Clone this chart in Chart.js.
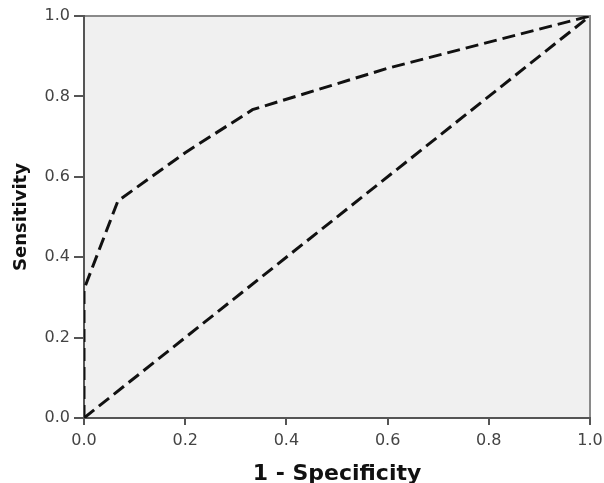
<!DOCTYPE html>
<html lang="en">
<head>
  <meta charset="UTF-8">
  <title>ROC curve</title>
  <script src="https://cdn.jsdelivr.net/npm/chart.js"></script>
  <style>
    body { margin: 0; background: #fff; }
    .wrap { width: 604px; height: 483px; }
  </style>
</head>
<body>
  <div class="wrap"><canvas id="roc" width="604" height="483"></canvas></div>
  <script>
    // ROC points
    const fpr = [0, 0, 0.067, 0.2, 0.333, 0.6, 1];
    const tpr = [0, 0.32, 0.54, 0.66, 0.767, 0.87, 1];
    // reference diagonal
    const refX = [0, 1];
    const refY = [0, 1];
    const tickVals = [0, 0.2, 0.4, 0.6, 0.8, 1.0];

    const toPoints = (xs, ys) => xs.map((x, i) => ({ x: x, y: ys[i] }));

    // grey plot background + lighter top/right frame
    const plotBg = {
      id: 'plotBg',
      beforeDraw(chart) {
        const { ctx, chartArea: a } = chart;
        ctx.save();
        ctx.fillStyle = '#f0f0f0';
        ctx.fillRect(a.left, a.top, a.right - a.left, a.bottom - a.top);
        ctx.strokeStyle = '#8a8a8a';
        ctx.lineWidth = 2;
        ctx.beginPath();
        ctx.moveTo(a.left, a.top);
        ctx.lineTo(a.right, a.top);
        ctx.lineTo(a.right, a.bottom);
        ctx.stroke();
        ctx.restore();
      }
    };

    const lineStyle = {
      borderColor: '#111',
      borderWidth: 3,
      borderDash: [13, 6],
      pointRadius: 0,
      showLine: true,
      fill: false,
      tension: 0
    };

    const tickFont = { family: 'DejaVu Sans', size: 16 };

    new Chart(document.getElementById('roc'), {
      type: 'scatter',
      data: {
        datasets: [
          Object.assign({ label: 'ROC', data: toPoints(fpr, tpr) }, lineStyle),
          Object.assign({ label: 'Reference', data: toPoints(refX, refY) }, lineStyle)
        ]
      },
      options: {
        responsive: false,
        animation: false,
        layout: { padding: { top: 16, right: 14, left: 0, bottom: 0 } },
        plugins: { legend: { display: false }, tooltip: { enabled: false } },
        scales: {
          x: {
            type: 'linear', min: 0, max: 1,
            afterBuildTicks: s => { s.ticks = tickVals.map(v => ({ value: v })); },
            afterFit: s => { s.height = 65; s.paddingLeft = 0; s.paddingRight = 0; },
            grid: { drawOnChartArea: false, tickLength: 7, color: '#555', lineWidth: 2 },
            border: { color: '#555', width: 2 },
            ticks: {
              padding: 6, color: '#444', font: tickFont,
              callback: v => v.toFixed(1)
            },
            title: {
              display: true, text: '1 - Specificity', color: '#111',
              font: { family: 'DejaVu Sans', size: 22, weight: 'bold' },
              padding: { top: 0, bottom: -4 }
            }
          },
          y: {
            type: 'linear', min: 0, max: 1,
            afterBuildTicks: s => { s.ticks = tickVals.map(v => ({ value: v })); },
            afterFit: s => { s.width = 84; s.paddingTop = 0; s.paddingBottom = 0; },
            grid: { drawOnChartArea: false, tickLength: 10, color: '#555', lineWidth: 2 },
            border: { color: '#555', width: 2 },
            ticks: {
              padding: 4, color: '#444', font: tickFont,
              callback: v => v.toFixed(1)
            },
            title: {
              display: true, text: 'Sensitivity', color: '#111',
              font: { family: 'DejaVu Sans', size: 18, weight: 'bold' },
              padding: { top: 11, bottom: 0 }
            }
          }
        }
      },
      plugins: [plotBg]
    });
  </script>
</body>
</html>
